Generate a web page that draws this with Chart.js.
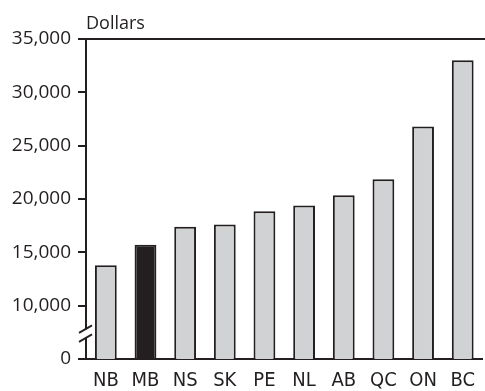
<!DOCTYPE html>
<html>
<head>
<meta charset="utf-8">
<script src="https://cdn.jsdelivr.net/npm/chart.js@4"></script>
<style>
  html, body { margin: 0; padding: 0; background: #fff; }
  #wrap { width: 485px; height: 391px; }
</style>
</head>
<body>
<div id="wrap"><canvas id="chart" width="485" height="391"></canvas></div>
<script>
// Provinces, ordered from lowest to highest
const provinces = ['NB', 'MB', 'NS', 'SK', 'PE', 'NL', 'AB', 'QC', 'ON', 'BC'];
// Amount in dollars for each province
const dollars = [13800, 15700, 17400, 17600, 18850, 19400, 20350, 21850, 26800, 33000];
// The highlighted province
const highlight = 'MB';
// Values shown on the vertical axis; the axis is broken below 10,000,
// so the bottom of the plot stands for 0
const yTickValues = [5000, 10000, 15000, 20000, 25000, 30000, 35000];
const yTickLabels = ['0', '10,000', '15,000', '20,000', '25,000', '30,000', '35,000'];

const INK = '#231f20';
const GREY = '#d1d2d4';
const FONT = '"Open Sans", sans-serif';
const NARROW = '"Liberation Sans Narrow", "DejaVu Sans Condensed", sans-serif';

const decorations = {
  id: 'decorations',
  afterDraw(chart) {
    const { ctx, chartArea } = chart;
    const y = chart.scales.y;
    ctx.save();
    // top frame line
    ctx.strokeStyle = INK;
    ctx.lineWidth = 2;
    ctx.beginPath();
    ctx.moveTo(chartArea.left - 1, chartArea.top);
    ctx.lineTo(chart.width, chartArea.top);
    ctx.stroke();
    // unit label
    ctx.fillStyle = INK;
    ctx.font = '18px ' + FONT;
    ctx.textAlign = 'left';
    ctx.textBaseline = 'alphabetic';
    ctx.fillText('Dollars', chartArea.left, chartArea.top - 10);
    // axis break between 0 and 10,000
    const x0 = chartArea.left;
    const yMid = y.getPixelForValue(7400);
    ctx.fillStyle = '#fff';
    ctx.fillRect(x0 - 3, yMid - 4, 6, 8);
    ctx.strokeStyle = INK;
    ctx.lineWidth = 1.8;
    ctx.beginPath();
    ctx.moveTo(x0 - 7, yMid - 0.5);
    ctx.lineTo(x0 + 6, yMid - 8);
    ctx.moveTo(x0 - 7, yMid + 8.5);
    ctx.lineTo(x0 + 6, yMid + 1);
    ctx.stroke();
    ctx.restore();
  }
};

new Chart(document.getElementById('chart'), {
  type: 'bar',
  data: {
    labels: provinces,
    datasets: [{
      data: dollars,
      backgroundColor: provinces.map(p => p === highlight ? INK : GREY),
      borderColor: INK,
      borderWidth: 2,
      borderSkipped: 'bottom',
      barPercentage: 0.55,
      categoryPercentage: 1.0
    }]
  },
  options: {
    responsive: false,
    animation: false,
    layout: { padding: { top: 39, right: 0, bottom: 0, left: 0 } },
    plugins: { legend: { display: false }, tooltip: { enabled: false } },
    scales: {
      x: {
        grid: { display: false, drawTicks: false },
        border: { display: true, color: INK, width: 2 },
        ticks: { color: INK, font: { family: NARROW, size: 20 }, padding: 10, maxRotation: 0 },
        afterFit(scale) { scale.height = 32; }
      },
      y: {
        min: yTickValues[0],
        max: yTickValues[yTickValues.length - 1],
        afterBuildTicks(scale) { scale.ticks = yTickValues.map(v => ({ value: v })); },
        grid: { drawOnChartArea: false, drawTicks: true, tickLength: 8, color: INK, lineWidth: 2 },
        border: { display: true, color: INK, width: 2 },
        ticks: {
          color: INK,
          font: { family: FONT, size: 19 },
          padding: 7,
          callback: (v) => yTickLabels[yTickValues.indexOf(v)]
        },
        afterFit(scale) { scale.width = 86; }
      }
    }
  },
  plugins: [decorations]
});
</script>
</body>
</html>
